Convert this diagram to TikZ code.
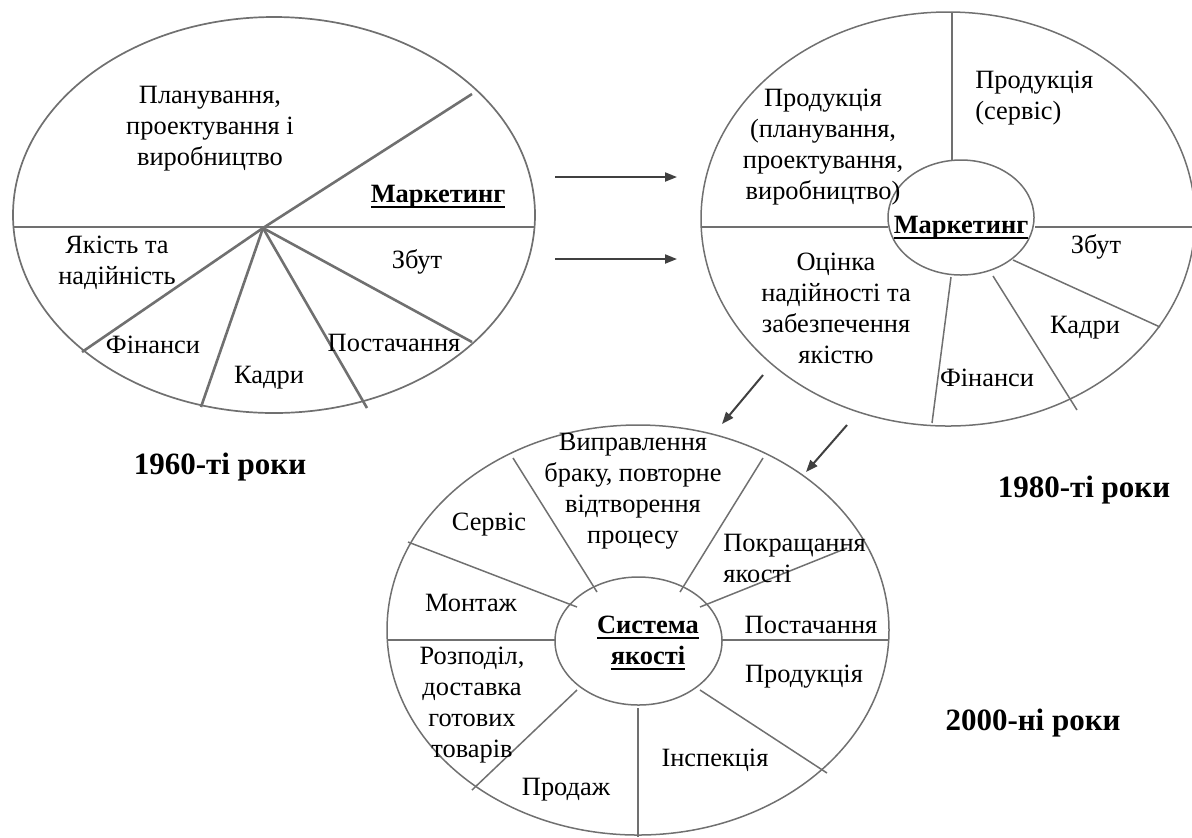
\documentclass[tikz,border=0pt]{standalone}
\usepackage{fontspec}
\setmainfont{Liberation Serif}
\usetikzlibrary{arrows.meta,shapes.geometric}
\definecolor{lc}{HTML}{707070}
\definecolor{ac}{HTML}{404040}
\newcommand{\txtsize}{\fontsize{13.2}{15.5}\selectfont}
\newcommand{\yrsize}{\fontsize{15.5}{18}\selectfont\bfseries}
\newcommand{\thul}[1]{\leavevmode\setbox0=\hbox{#1}\rlap{\rule[-2.6pt]{\wd0}{0.9pt}}\box0}
\tikzset{
  lbl/.style={inner sep=0pt, font=\txtsize, align=center},
  yr/.style={inner sep=0pt, font=\yrsize},
  oval/.style={draw=lc, ellipse, inner sep=0pt, outer sep=0pt},
  sp/.style={draw=lc, line width=0.75pt},
  spthick/.style={draw=lc, line width=1.3pt},
  arr/.style={draw=ac, line width=1pt, -{Triangle[length=6pt,width=4.5pt]}}
}
\begin{document}
\begin{tikzpicture}[x=0.5pt,y=-0.5pt]
\useasboundingbox (0,0) rectangle (1192,837);
% ---------- 1960s ----------
\node[oval, line width=0.85pt, minimum width=261pt, minimum height=198pt] (e1) at (274,215) {};
\coordinate (h1) at (263,228);
\draw[spthick] (13,227) -- (535,227);
\draw[spthick] (h1) -- (472,94);
\draw[spthick] (h1) -- (82,352);
\draw[spthick] (h1) -- (201,407);
\draw[spthick] (h1) -- (367,408);
\draw[spthick] (h1) -- (472,342);
\node[lbl] (n1plan) at (210,129) {Планування,\\проектування і\\виробництво};
\node[lbl, font=\txtsize\bfseries] (n1mark) at (438,197) {\thul{Маркетинг}};
\node[lbl] (n1yak) at (117,263) {Якість та\\надійність};
\node[lbl] (n1zbut) at (417,262) {Збут};
\node[lbl] (n1fin) at (153,345) {Фінанси};
\node[lbl] (n1kadr) at (269,378) {Кадри};
\node[lbl] (n1post) at (394,343) {Постачання};
\node[yr] (y1) at (220,467) {1960-ті роки};
% ---------- arrows ----------
\coordinate (a1s) at (555,177); \coordinate (a1e) at (677,177);
\coordinate (a2s) at (555,259); \coordinate (a2e) at (677,259);
\coordinate (a3s) at (763,375); \coordinate (a3e) at (722,424);
\coordinate (a4s) at (847,425); \coordinate (a4e) at (806,472);
\draw[arr] (a1s) -- (a1e);
\draw[arr] (a2s) -- (a2e);
\draw[arr] (a3s) -- (a3e);
\draw[arr] (a4s) -- (a4e);
% ---------- 1980s ----------
\node[oval, line width=0.75pt, minimum width=247pt, minimum height=207pt] (e2) at (948,219) {};
\node[oval, line width=0.75pt, minimum width=73pt, minimum height=57.5pt] (c2) at (961,217.5) {};
\draw[sp] (701,227) -- (888,227);
\draw[sp] (1035,227) -- (1192,227);
\draw[sp] (952,12) -- (952,160);
\draw[sp] (951,277) -- (932,423);
\draw[sp] (993,276) -- (1077,410);
\draw[sp] (1013,260) -- (1160,327);
\node[lbl] (n2prod) at (823,147) {Продукція\\(планування,\\проектування,\\виробництво)};
\node[lbl, align=left, anchor=west] (n2serv) at (975,98) {Продукція\\(сервіс)};
\node[lbl, font=\txtsize\bfseries] (n2mark) at (961,228) {\thul{Маркетинг}};
\node[lbl] (n2zbut) at (1096,247) {Збут};
\node[lbl] (n2kadr) at (1085,328) {Кадри};
\node[lbl] (n2fin) at (987,378) {Фінанси};
\node[lbl] (n2ots) at (836,308) {Оцінка\\надійності та\\забезпечення\\якістю};
\node[yr] (y2) at (1084,490) {1980-ті роки};
% ---------- 2000s ----------
\node[oval, line width=0.75pt, minimum width=251pt, minimum height=205pt] (e3) at (638,630) {};
\node[oval, line width=0.75pt, minimum width=83.5pt, minimum height=64pt] (c3) at (638.5,641) {};
\draw[sp] (387,640) -- (555,640);
\draw[sp] (722,640) -- (889,640);
\draw[sp] (638,708) -- (638,837);
\draw[sp] (513,458) -- (597,592);
\draw[sp] (408,542) -- (577,607);
\draw[sp] (763,458) -- (680,592);
\draw[sp] (847,548) -- (700,607);
\draw[sp] (577,690) -- (472,790);
\draw[sp] (700,690) -- (827,773);
\node[lbl] (n3vyp) at (633,491) {Виправлення\\браку, повторне\\відтворення\\процесу};
\node[lbl] (n3serv) at (489,525) {Сервіс};
\node[lbl] (n3mont) at (471,603) {Монтаж};
\node[lbl, align=left, anchor=west] (n3pokr) at (723,558) {Покращання\\якості};
\node[lbl] (n3post) at (811,625) {Постачання};
\node[lbl] (n3prod) at (804,677) {Продукція};
\node[lbl] (n3insp) at (715,760) {Інспекція};
\node[lbl] (n3prodazh) at (566,790) {Продаж};
\node[lbl] (n3rozp) at (472,705) {Розподіл,\\доставка\\готових\\товарів};
\node[lbl, font=\txtsize\bfseries] (n3sys) at (648,643) {\thul{Система}\\\thul{якості}};
\node[yr] (y3) at (1033,723) {2000-ні роки};
\end{tikzpicture}
\end{document}
